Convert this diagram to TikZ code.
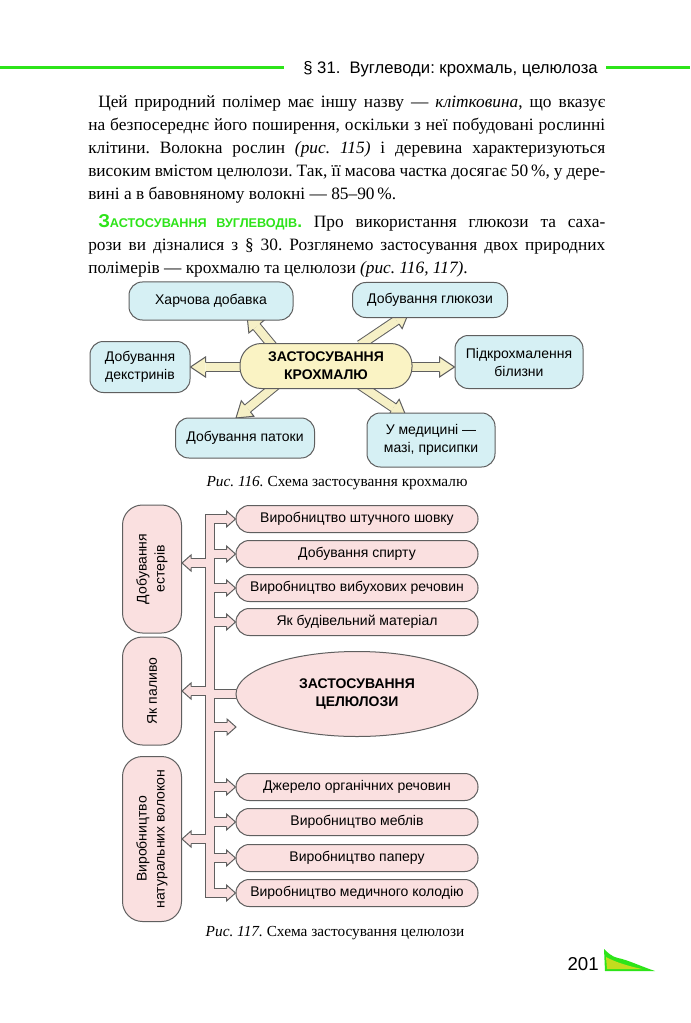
\documentclass[tikz,border=0pt]{standalone}
\usepackage{fontspec}
\setmainfont{Liberation Serif}
\setsansfont{Liberation Sans}
\usepackage{graphicx}
\usetikzlibrary{calc,shapes.geometric,backgrounds,positioning}
\frenchspacing

\definecolor{hgreen}{RGB}{45,228,25}
\definecolor{boxcyan}{RGB}{214,240,244}
\definecolor{cenyellow}{RGB}{250,243,196}
\definecolor{arryellow}{RGB}{246,240,198}
\definecolor{boxpink}{RGB}{250,224,224}
\definecolor{edgegray}{RGB}{95,95,95}

% head of a fat arrow: base, tip, fill
\newcommand\fathead[3]{%
  \filldraw[fill=#3,draw=edgegray,line width=0.75pt,line join=miter]
    ($(#1)!3.375pt!90:(#2)$) -- ($(#1)!\headw!90:(#2)$) -- (#2)
    -- ($(#1)!\headw!-90:(#2)$) -- ($(#1)!3.375pt!-90:(#2)$);}
% whole fat arrow: start, tip, fill
\newcommand\fatarrow[3]{%
  \coordinate (hb) at ($(#2)!\headl!(#1)$);
  \draw[line width=7.5pt,edgegray] (#1) -- (hb);
  \draw[line width=6pt,#3] (#1) -- (hb);
  \fathead{hb}{#2}{#3}}

\begin{document}
\begin{tikzpicture}[x=0.75pt,y=-0.75pt,
  every node/.style={inner sep=0pt},
  body/.style={font=\fontsize{13}{17.25}\selectfont},
  sfont/.style={font=\sffamily\fontsize{10.5}{13.5}\selectfont},
  bfont/.style={font=\sffamily\bfseries\fontsize{10.5}{13.5}\selectfont},
  cbox/.style={sfont,draw=edgegray,line width=0.75pt,fill=boxcyan,rounded corners=10pt,align=center},
  pbox/.style={sfont,draw=edgegray,line width=0.75pt,fill=boxpink,rounded corners=10pt,align=center,
    minimum width=181.5pt,minimum height=20.25pt},
  vbox/.style={sfont,draw=edgegray,line width=0.75pt,fill=boxpink,rounded corners=15pt,minimum width=44.25pt},
  caption/.style={font=\fontsize{11.5}{13}\selectfont}]
\begin{pgfonlayer}{background}
  \fill[white] (0,0) rectangle (690,1023);
\end{pgfonlayer}
\useasboundingbox (0,0) rectangle (690,1023);

% running head
\draw[hgreen,line width=2.25pt] (0,68) -- (284,68) (606,68) -- (690,68);
\node[anchor=base east,font=\sffamily\fontsize{12.5}{15}\selectfont] (head) at (598,74)
  {§ 31.\ \ Вуглеводи: крохмаль, целюлоза};

% text
\node[body,anchor=base west,text width=387.75pt,align=justify] (par1) at (88,108)
  {\hspace*{7.5pt}Цей природний полімер має іншу назву — \textit{клітковина}, що вказує\linebreak
  на безпосереднє його поширення, оскільки з неї побудовані рослинні\linebreak
  клітини. Волокна рослин \textit{(рис.~115)} і деревина характеризуються\linebreak
  високим вмістом целюлози. Так, її масова частка досягає 50\,\%, у дере-\linebreak
  вині а в бавовняному волокні — 85–90\,\%.};
\node[body,anchor=base west,text width=387.75pt,align=justify] (par2) at (88,228)
  {\hspace*{7.5pt}{\color{hgreen}\sffamily\bfseries{\fontsize{14}{16}\selectfont З}{\fontsize{9.5}{12}\selectfont АСТОСУВАННЯ ВУГЛЕВОДІВ}.}
  Про використання глюкози та саха-\linebreak
  рози ви дізналися з § 30. Розглянемо застосування двох природних\linebreak
  полімерів — крохмалю та целюлози \textit{(рис.~116, 117)}.};

% Fig. 116
\node[cbox,minimum width=123pt,minimum height=28.5pt] (food) at (211,301) {Харчова добавка};
\node[cbox,minimum width=116.25pt,minimum height=26.25pt] (gluc) at (430,300) {Добування глюкози};
\node[cbox,minimum width=75pt,minimum height=38.25pt] (dext) at (140,367) {Добування\\декстринів};
\node[bfont,draw=edgegray,line width=0.75pt,fill=cenyellow,rounded corners=16pt,align=center,
  minimum width=129pt,minimum height=33.75pt] (starch) at (326,366) {ЗАСТОСУВАННЯ\\КРОХМАЛЮ};
\node[cbox,minimum width=96pt,minimum height=39.75pt] (linen) at (519,362) {Підкрохмалення\\білизни};
\node[cbox,minimum width=104.25pt,minimum height=30pt] (treacle) at (245,438) {Добування патоки};
\node[cbox,minimum width=96pt,minimum height=40.5pt] (medic) at (431,440) {У медицині —\\мазі, присипки};
\node[caption] (cap116) at (337,483) {\textit{Рис. 116.} Схема застосування крохмалю};

\coordinate (s1) at (280,355); \coordinate (t1) at (247,315);
\coordinate (s2) at (360,345); \coordinate (t2) at (409,312);
\coordinate (s3) at (250,367); \coordinate (t3) at (dext.east);
\coordinate (s4) at (400,367); \coordinate (t4) at (linen.west |- s4);
\coordinate (s5) at (280,382); \coordinate (t5) at (236,418);
\coordinate (s6) at (360,385); \coordinate (t6) at (406,416);
\def\headw{7.5pt}\def\headl{11.25pt}
\begin{pgfonlayer}{background}
  \foreach \i in {1,...,6} {\fatarrow{s\i}{t\i}{arryellow}}
\end{pgfonlayer}

% Fig. 117
\node[pbox] (silk) at (357,519) {Виробництво штучного шовку};
\node[pbox] (spirit) at (357,554) {Добування спирту};
\node[pbox] (explos) at (357,588) {Виробництво вибухових речовин};
\node[pbox] (build) at (357,622) {Як будівельний матеріал};
\node[ellipse,bfont,draw=edgegray,line width=0.75pt,fill=boxpink,minimum width=181.5pt,minimum height=63.75pt,
  align=center] (cell) at (357,694) {ЗАСТОСУВАННЯ\\ЦЕЛЮЛОЗИ};
\node[pbox] (orgsrc) at (357,787) {Джерело органічних речовин};
\node[pbox] (furnit) at (357,822) {Виробництво меблів};
\node[pbox] (paper) at (357,858) {Виробництво паперу};
\node[pbox] (collod) at (357,893) {Виробництво медичного колодію};
\node[vbox,minimum height=96pt] (ester) at (152,569)
  {\rotatebox{90}{\begin{tabular}{@{}c@{}}Добування\\естерів\end{tabular}}};
\node[vbox,minimum height=81pt] (fuel) at (152,691) {\rotatebox{90}{Як паливо}};
\node[vbox,minimum height=123.75pt] (fibre) at (152,839)
  {\rotatebox{90}{\begin{tabular}{@{}c@{}}Виробництво\\натуральних волокон\end{tabular}}};
\node[caption] (cap117) at (335,933) {\textit{Рис. 117.} Схема застосування целюлози};

\coordinate (tt) at (210,519);
\coordinate (free) at (236,727);
\coordinate (esterT) at ($(ester.east)+(0,-6)$);
\coordinate (fuelT) at (fuel.east);
\coordinate (fibreT) at (fibre.east);
\foreach \b in {silk,spirit,explos,build,orgsrc,furnit,paper,collod}
  \coordinate (\b-h) at ($(\b.west)+(-9,0)$);
\coordinate (free-h) at ($(free)+(-9,0)$);
\foreach \b in {esterT,fuelT,fibreT}
  \coordinate (\b-h) at ($(\b)+(9,0)$);
\def\headw{6pt}\def\headl{6.75pt}
\begin{pgfonlayer}{background}
  \foreach \w/\c in {7.5pt/edgegray,6pt/boxpink} {
    \draw[line width=\w,\c,line join=miter] (silk-h) -- (silk.west -| tt) -- (collod.west -| tt) -- (collod-h);
    \foreach \b in {spirit,explos,build,orgsrc,furnit,paper}
      \draw[line width=\w,\c] (\b.west -| tt) -- (\b-h);
    \draw[line width=\w,\c] (free -| tt) -- (free-h);
    \foreach \b in {esterT,fuelT,fibreT}
      \draw[line width=\w,\c] (\b -| tt) -- (\b-h);
    \draw[line width=\w,\c] (cell.west -| tt) -- (cell.west);
  }
  \foreach \b in {silk,spirit,explos,build,orgsrc,furnit,paper,collod}
    \fathead{\b-h}{\b.west}{boxpink};
  \fathead{free-h}{free}{boxpink}
  \foreach \b in {esterT,fuelT,fibreT}
    \fathead{\b-h}{\b}{boxpink};
\end{pgfonlayer}

% page number
\node[anchor=base east,font=\sffamily\fontsize{14}{16}\selectfont] (pgno) at (599,970) {201};
\fill[hgreen] (604,949) -- (605,971) -- (655,971) .. controls (640,966) and (628,960) .. (618,958)
  .. controls (612,957) and (607,952) .. (604,949);
\fill[yellow!70!hgreen] (606,957) .. controls (615,962) and (628,966) .. (642,969) -- (607,969) -- cycle;
\end{tikzpicture}
\end{document}
